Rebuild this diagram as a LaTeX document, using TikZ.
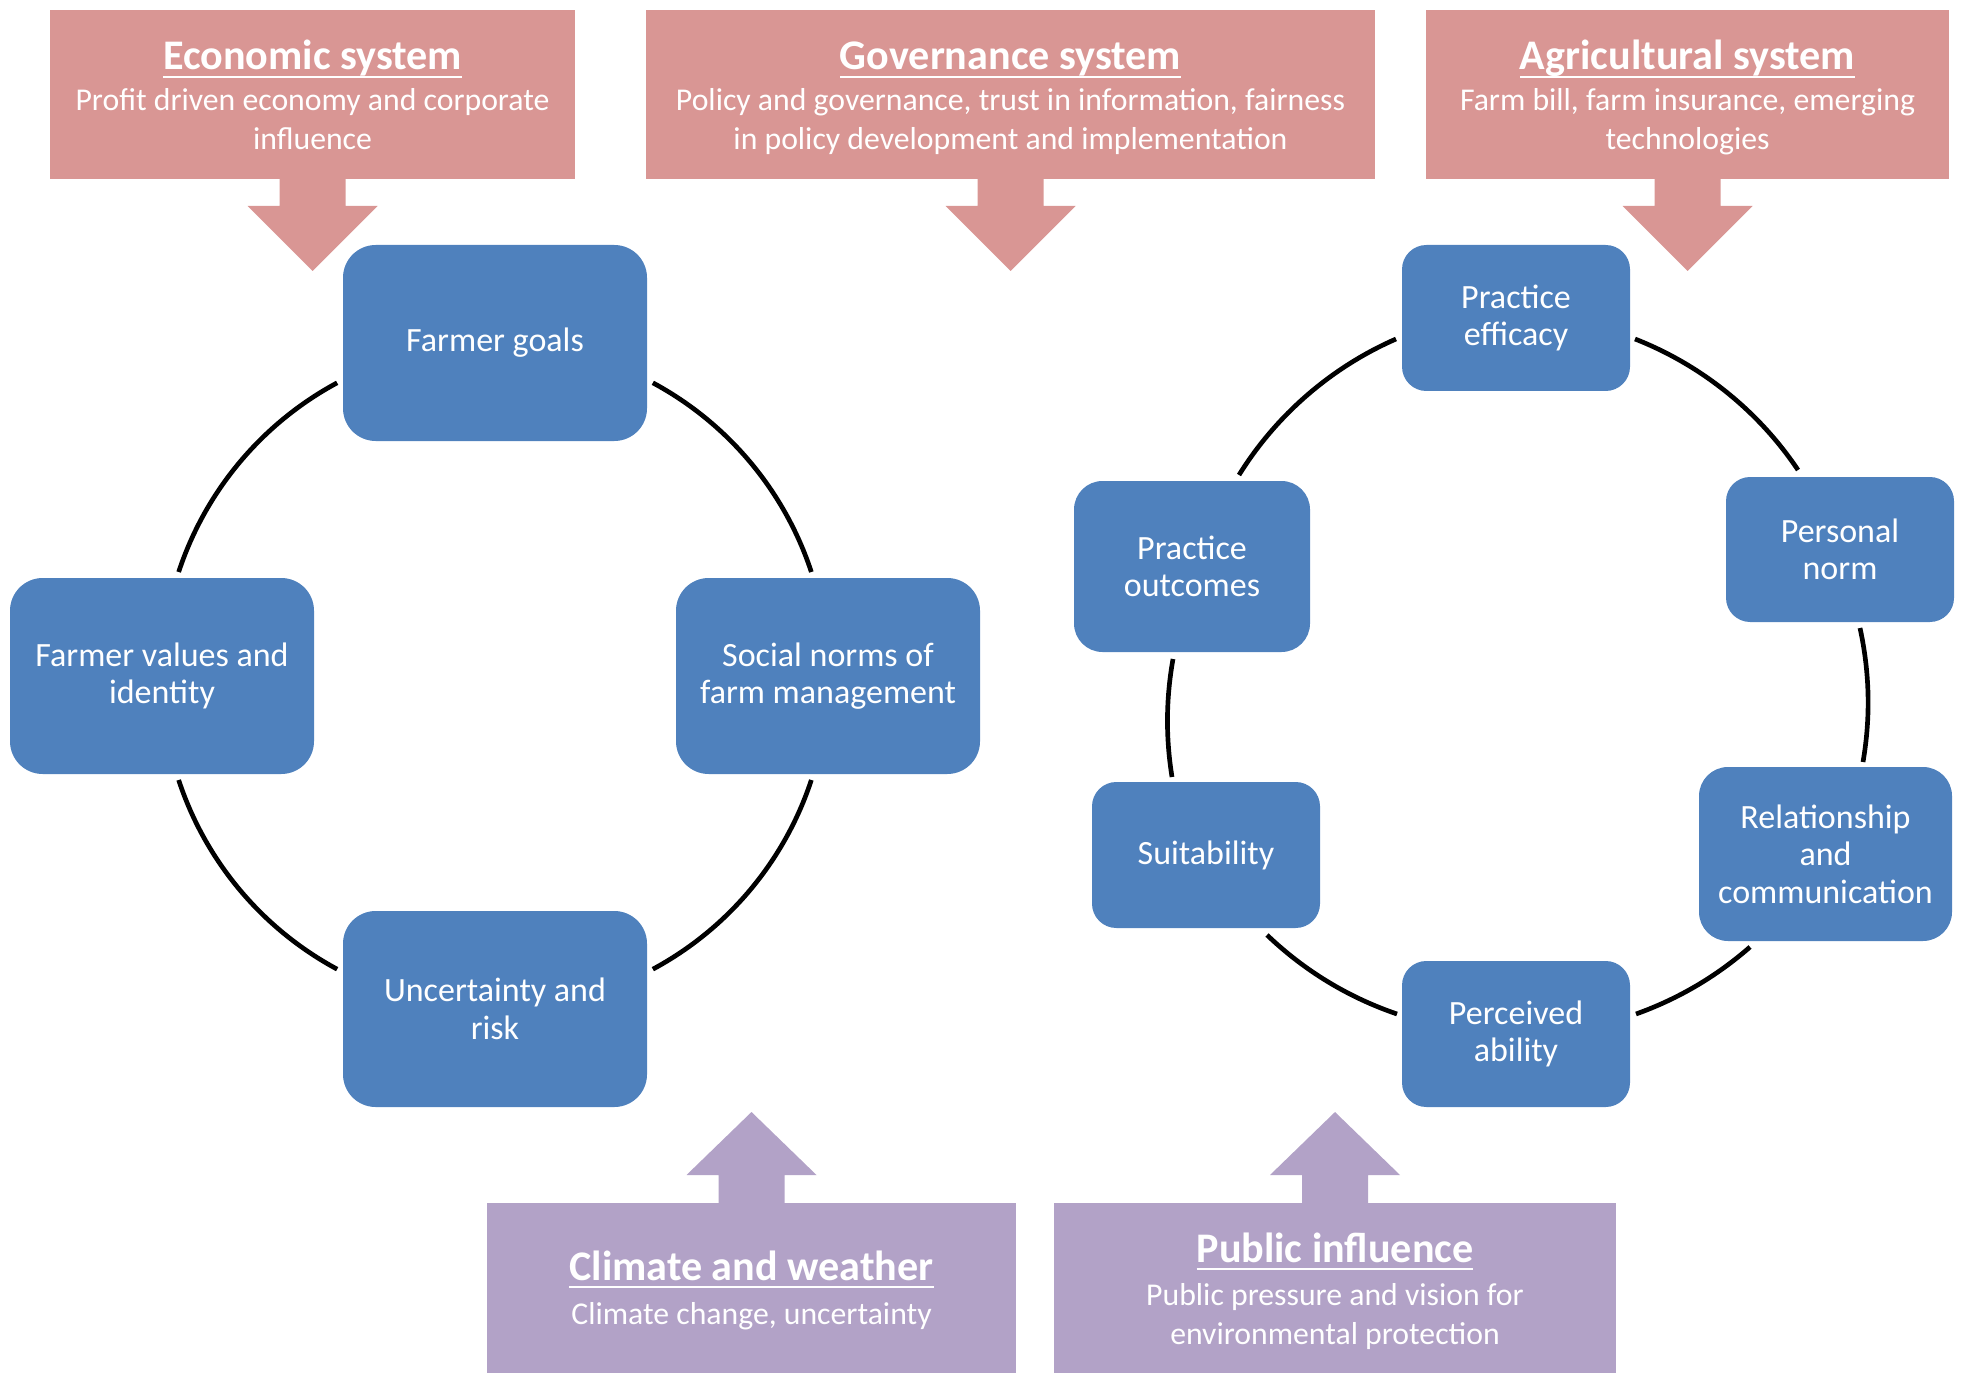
\documentclass[tikz,border=0pt]{standalone}
\usepackage{fontspec}
\setmainfont{Carlito}
\usetikzlibrary{calc}
\definecolor{pinkc}{HTML}{D99694}
\definecolor{bluec}{HTML}{4F81BD}
\definecolor{purplec}{HTML}{B2A2C7}
\newcommand\ulx[1]{\setbox0\hbox{#1}\rlap{\rule[-0.2em]{\wd0}{0.06em}}\box0}
\begin{document}
\begin{tikzpicture}[x=0.75pt,y=0.75pt,
  every node/.style={inner sep=0pt,outer sep=0pt},
  bluebox/.style={fill=bluec,rounded corners=#1,text=white,align=center,
    font=\fontsize{25.5}{28.2}\selectfont},
  bluebox/.default=18pt,
  pinkbox/.style={fill=pinkc},
  purplebox/.style={fill=purplec},
  hdr/.style={anchor=base,text=white,font=\fontsize{31.6}{37}\selectfont\bfseries},
  sub/.style={anchor=base,text=white,font=\fontsize{23.8}{28.6}\selectfont},
  cyc/.style={line width=3.5pt,black},
  rbend/.style={bend left=#1,looseness=0.87},
  downarr/.pic={\fill (-33,1) -- (-33,-27) -- (-65,-27) -- (0,-92) -- (65,-27) -- (33,-27) -- (33,1) -- cycle;},
  uparr/.pic={\fill (-33,-1) -- (-33,28) -- (-65,28) -- (0,91) -- (65,28) -- (33,28) -- (33,-1) -- cycle;}
]
\useasboundingbox (0,0) rectangle (1963,-1376);

% ---------- top boxes ----------
\node[pinkbox,minimum width=393.75pt,minimum height=126.75pt] (eco) at (312.5,-94.5) {};
\node[pinkbox,minimum width=546.75pt,minimum height=126.75pt] (gov) at (1010.5,-94.5) {};
\node[pinkbox,minimum width=392.25pt,minimum height=126.75pt] (agri) at (1687.5,-94.5) {};

\node[hdr] (ecoT) at ($(eco.north)+(0,-60)$) {\ulx{Economic system}};
\node[sub] (ecoS1) at ($(eco.north)+(0,-101)$) {Profit driven economy and corporate};
\node[sub] (ecoS2) at ($(eco.north)+(0,-140)$) {influence};

\node[hdr] (govT) at ($(gov.north)+(0,-60)$) {\ulx{Governance system}};
\node[sub] (govS1) at ($(gov.north)+(0,-101)$) {Policy and governance, trust in information, fairness};
\node[sub] (govS2) at ($(gov.north)+(0,-140)$) {in policy development and implementation};

\node[hdr] (agriT) at ($(agri.north)+(0,-60)$) {\ulx{Agricultural system}};
\node[sub] (agriS1) at ($(agri.north)+(0,-101)$) {Farm bill, farm insurance, emerging};
\node[sub] (agriS2) at ($(agri.north)+(0,-140)$) {technologies};

\pic[color=pinkc] at (eco.south) {downarr};
\pic[color=pinkc] at (gov.south) {downarr};
\pic[color=pinkc] at (agri.south) {downarr};

% ---------- bottom boxes ----------
\node[purplebox,minimum width=396.75pt,minimum height=127.5pt] (cli) at (751.5,-1288) {};
\node[purplebox,minimum width=421.5pt,minimum height=127.5pt] (pub) at (1335,-1288) {};

\node[hdr] (cliT) at ($(cli.north)+(0,-77)$) {\ulx{Climate and weather}};
\node[sub] (cliS1) at ($(cli.north)+(0,-121)$) {Climate change, uncertainty};

\node[hdr] (pubT) at ($(pub.north)+(0,-59)$) {\ulx{Public influence}};
\node[sub] (pubS1) at ($(pub.north)+(0,-102)$) {Public pressure and vision for};
\node[sub] (pubS2) at ($(pub.north)+(0,-141)$) {environmental protection};

\pic[color=purplec] at (cli.north) {uparr};
\pic[color=purplec] at (pub.north) {uparr};

% ---------- left cycle ----------
\node[bluebox=24.5pt,minimum width=228pt,minimum height=147pt] (fg) at (495,-343) {Farmer goals};
\node[bluebox=24.5pt,minimum width=228pt,minimum height=147pt] (fv) at (162,-676) {Farmer values and\\identity};
\node[bluebox=24.5pt,minimum width=228pt,minimum height=147pt] (sn) at (828,-676) {Social norms of\\farm management};
\node[bluebox=24.5pt,minimum width=228pt,minimum height=147pt] (ur) at (495,-1009) {Uncertainty and\\risk};

\coordinate (cL) at (495,-676);
\coordinate (l1) at ($(cL)+(118.3:333)$);
\coordinate (l2) at ($(cL)+(18.2:333)$);
\coordinate (l3) at ($(cL)+(298.3:333)$);
\coordinate (l4) at ($(cL)+(198.2:333)$);
\draw[cyc] (l1) arc[start angle=118.3,end angle=161.8,radius=333];
\draw[cyc] (l2) arc[start angle=18.2,end angle=61.7,radius=333];
\draw[cyc] (l3) arc[start angle=298.3,end angle=341.8,radius=333];
\draw[cyc] (l4) arc[start angle=198.2,end angle=241.7,radius=333];

% ---------- right cycle ----------
\node[bluebox=18.25pt,minimum width=171pt,minimum height=109.5pt] (pe) at (1516,-318) {Practice\\efficacy};
\node[bluebox=18.1pt,minimum width=171pt,minimum height=108.75pt] (pn) at (1840,-549.5) {Personal\\norm};
\node[bluebox=21.4pt,minimum width=177pt,minimum height=128.25pt] (po) at (1192,-566.5) {Practice\\outcomes};
\node[bluebox=18.25pt,minimum width=171pt,minimum height=109.5pt] (su) at (1206,-855) {Suitability};
\node[bluebox=21.75pt,minimum width=189.75pt,minimum height=130.5pt] (rc) at (1825.5,-854) {Relationship\\and\\communication};
\node[bluebox=18.25pt,minimum width=171pt,minimum height=109.5pt] (pa) at (1516,-1034) {Perceived\\ability};

\coordinate (r1s) at (1239,-475);  \coordinate (r1e) at (1396,-339);
\coordinate (r2s) at (1635,-339);  \coordinate (r2e) at (1798,-470);
\coordinate (r3s) at (1860,-628);  \coordinate (r3e) at (1863,-762);
\coordinate (r4s) at (1750,-947);  \coordinate (r4e) at (1636,-1014);
\coordinate (r5s) at (1397,-1014); \coordinate (r5e) at (1267,-935);
\coordinate (r6s) at (1172,-777);  \coordinate (r6e) at (1173,-659);
\draw[cyc] (r1s) to[rbend=17.3] (r1e);
\draw[cyc] (r2s) to[rbend=17.4] (r2e);
\draw[cyc] (r3s) to[rbend=11] (r3e);
\draw[cyc] (r4s) to[rbend=10.7] (r4e);
\draw[cyc] (r5s) to[rbend=12.4] (r5e);
\draw[cyc] (r6s) to[rbend=9.6] (r6e);
\end{tikzpicture}
\end{document}
